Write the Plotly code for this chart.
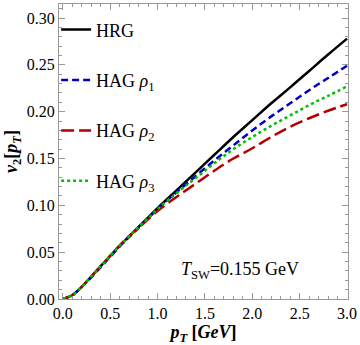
import plotly.graph_objects as go

# pT grid (GeV)
pt = [0.0, 0.1, 0.2, 0.3, 0.4, 0.5, 0.6, 0.7, 0.8, 0.9, 1.0, 1.2, 1.4, 1.6, 1.8,
      2.0, 2.2, 2.4, 2.6, 2.8, 3.0]

# v2[pT] curves
v2_hrg = [0.0, 0.004, 0.013, 0.024, 0.035, 0.046, 0.057, 0.067, 0.077, 0.087, 0.097,
          0.116, 0.135, 0.154, 0.173, 0.191, 0.209, 0.226, 0.2435, 0.261, 0.278]
v2_rho1 = [0.0, 0.004, 0.013, 0.023, 0.034, 0.045, 0.056, 0.066, 0.076, 0.086, 0.096,
           0.114, 0.131, 0.148, 0.164, 0.180, 0.195, 0.209, 0.223, 0.236, 0.249]
v2_rho2 = [0.0, 0.004, 0.013, 0.024, 0.035, 0.046, 0.057, 0.067, 0.076, 0.085, 0.094,
           0.109, 0.123, 0.137, 0.150, 0.161, 0.173, 0.184, 0.193, 0.201, 0.208]
v2_rho3 = [0.0, 0.004, 0.013, 0.024, 0.035, 0.046, 0.057, 0.067, 0.077, 0.086, 0.096,
           0.113, 0.129, 0.145, 0.160, 0.173, 0.185, 0.196, 0.207, 0.217, 0.227]

series = [
    ("HRG", v2_hrg, "black", "solid"),
    ("HAG <i>ρ</i><sub>1</sub>", v2_rho1, "rgb(0,0,200)", "7px,4px"),
    ("HAG <i>ρ</i><sub>2</sub>", v2_rho2, "rgb(180,0,0)", "13px,5px"),
    ("HAG <i>ρ</i><sub>3</sub>", v2_rho3, "rgb(0,190,0)", "3px,3px"),
]

fig = go.Figure()
for i, (name, y, color, dash) in enumerate(series):
    fig.add_trace(go.Scatter(
        x=pt, y=y, mode="lines", name=name, legendgroup=str(i),
        line=dict(color=color, width=2.5, dash=dash, shape="spline")
    ))

fig.add_annotation(
    x=1.87, y=0.03, xref="x", yref="y", showarrow=False,
    text="<i>T</i><sub>SW</sub>=0.155 GeV",
    font=dict(family="Liberation Serif", size=18, color="black")
)

fig.update_layout(
    width=360,
    height=345,
    margin=dict(l=59, r=5, t=3, b=46),
    plot_bgcolor="white",
    paper_bgcolor="white",
    font=dict(family="Liberation Serif", size=16, color="black"),
    legend=dict(
        x=-0.01, y=0.975, xanchor="left", yanchor="top",
        bgcolor="rgba(0,0,0,0)", font=dict(size=18),
        tracegroupgap=24, traceorder="grouped", itemwidth=30
    ),
)

axis_style = dict(
    showline=True, linecolor="#999999", linewidth=1, mirror="ticks",
    ticks="inside", ticklen=6, tickcolor="#999999", showgrid=False, zeroline=False,
)

fig.update_xaxes(
    range=[-0.04, 3.01], tick0=0, dtick=0.5, tickformat=".1f", ticklabeloverflow="allow",
    minor=dict(ticks="inside", ticklen=3, dtick=0.1, tickcolor="#999999"),
    title=dict(text="<b><i>p</i><sub><i>T</i></sub> [<i>GeV</i>]</b>", font=dict(size=18), standoff=6),
    **axis_style
)
fig.update_yaxes(
    range=[0, 0.315], tick0=0, dtick=0.05, tickformat=".2f",
    minor=dict(ticks="inside", ticklen=3, dtick=0.01, tickcolor="#999999"),
    title=dict(text="<b><i>v</i><sub>2</sub>[<i>p</i><sub><i>T</i></sub>]</b>", font=dict(size=18), standoff=4),
    **axis_style
)

fig.write_html("out.html", config={"displayModeBar": False},
               post_script="document.body.style.margin='0';")
